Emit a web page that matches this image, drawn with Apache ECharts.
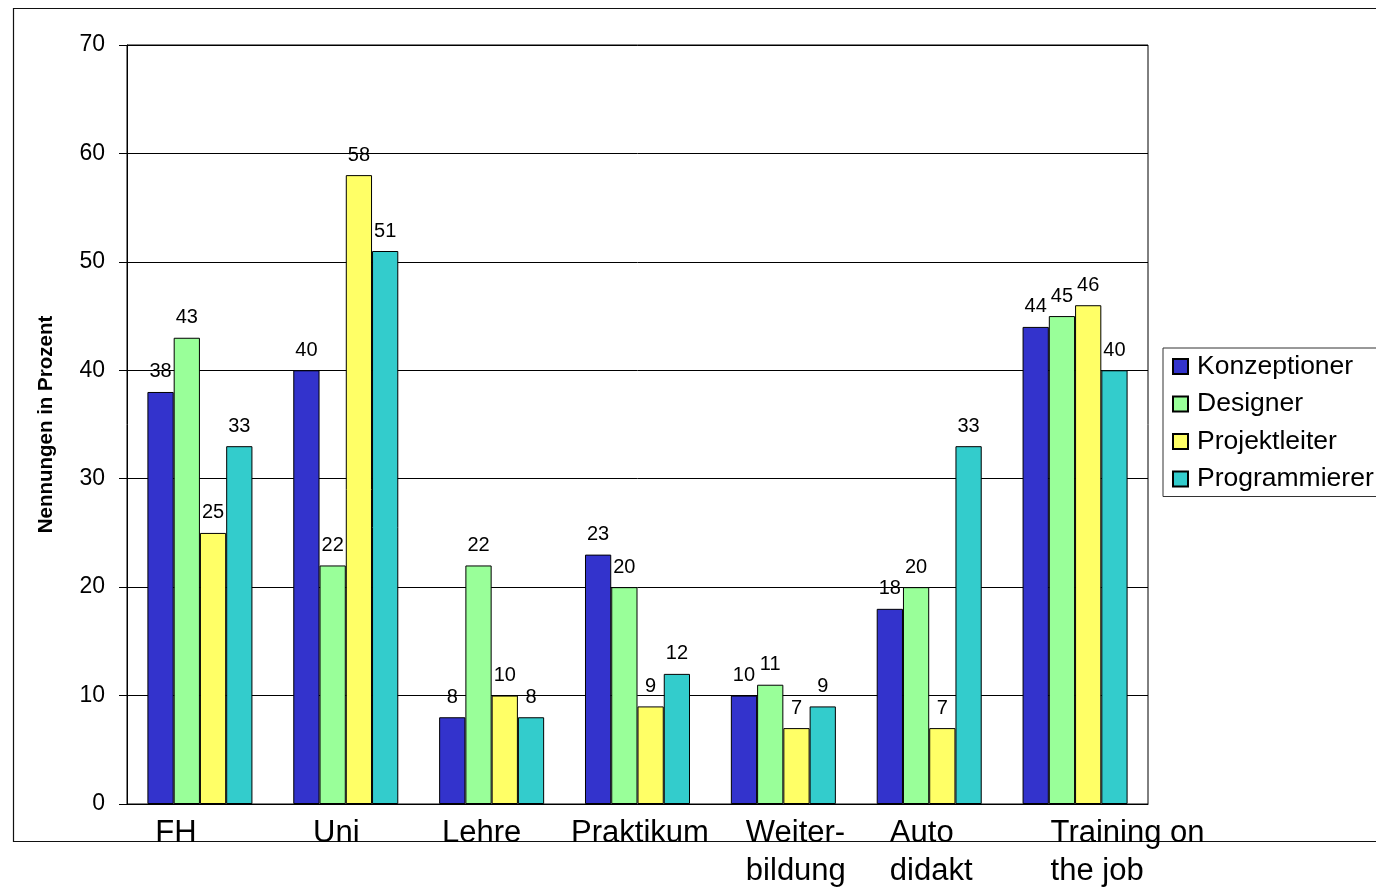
<!DOCTYPE html>
<html>
<head>
<meta charset="utf-8">
<title>Nennungen in Prozent</title>
<script src="https://cdn.jsdelivr.net/npm/echarts@6/dist/echarts.min.js"></script>
<style>
  html, body { margin: 0; padding: 0; background: #fff; }
  #chart { width: 1376px; height: 887px; }
</style>
</head>
<body>
<div id="chart"></div>
<script>
// Ausbildungswege nach Berufsgruppe (Nennungen in Prozent)
const categories = ['FH', 'Uni', 'Lehre', 'Praktikum', 'Weiter-\nbildung', 'Auto\ndidakt', 'Training on\nthe job'];
const seriesNames = ['Konzeptioner', 'Designer', 'Projektleiter', 'Programmierer'];
const konzeptioner = [38, 40, 8, 23, 10, 18, 44];
const designer = [43, 22, 22, 20, 11, 20, 45];
const projektleiter = [25, 58, 10, 9, 7, 7, 46];
const programmierer = [33, 51, 8, 12, 9, 33, 40];
const yTicks = [0, 10, 20, 30, 40, 50, 60, 70];

const colors = ['#3333CC', '#99FF99', '#FFFF66', '#33CCCC'];
const FONT = '"Liberation Sans", Arial, Helvetica, sans-serif';

// horizontal offsets [left, right] for each category label (lines are left-aligned)
const labelPad = [[0, 48], [0, 19], [0, 20], [5, 0], [25, 0], [4, 0], [105, 0]];
const rich = {};
labelPad.forEach((p, i) => {
  rich['c' + i] = {
    fontFamily: FONT, fontSize: 31, lineHeight: 38, color: '#000',
    align: 'left', padding: [0, p[1], 0, p[0]]
  };
});

const chart = echarts.init(document.getElementById('chart'), null, { renderer: 'canvas' });
const valueSets = [konzeptioner, designer, projektleiter, programmierer];

chart.setOption({
  backgroundColor: '#fff',
  animation: false,
  textStyle: { fontFamily: FONT, color: '#000' },
  graphic: [{
    type: 'rect',
    shape: { x: 13.5, y: 8.5, width: 1380, height: 833 },
    style: { fill: 'none', stroke: '#111', lineWidth: 1.2 },
    silent: true, z: -1
  }],
  grid: {
    left: 127, right: 228, top: 45, bottom: 83,
    show: true, borderColor: '#000', borderWidth: 1, backgroundColor: '#fff'
  },
  legend: {
    orient: 'vertical', left: 1163, top: 348,
    padding: [5, 3, 4, 9],
    borderColor: '#333', borderWidth: 1, backgroundColor: '#fff',
    itemWidth: 15, itemHeight: 15, itemGap: 10.5,
    icon: 'rect',
    textStyle: { fontFamily: FONT, fontSize: 26.5, color: '#000', padding: [0, 0, 0, 4] },
    data: seriesNames
  },
  xAxis: {
    type: 'category',
    data: categories,
    axisLine: { show: true, lineStyle: { color: '#000', width: 1 } },
    axisTick: { show: false },
    axisLabel: {
      interval: 0, margin: 10, color: '#000',
      formatter: (value, index) => value.split('\n').map(l => '{c' + index + '|' + l + '}').join('\n'),
      rich: rich
    }
  },
  yAxis: {
    type: 'value',
    min: yTicks[0], max: yTicks[yTicks.length - 1], interval: 10,
    name: 'Nennungen in Prozent',
    nameLocation: 'middle', nameGap: 70, nameRotate: 90,
    nameTextStyle: { fontFamily: FONT, fontSize: 20.5, fontWeight: 'bold', color: '#000' },
    axisLine: { show: true, lineStyle: { color: '#000', width: 1 } },
    axisTick: { show: true, inside: false, length: 8, lineStyle: { color: '#000' } },
    axisLabel: { margin: 22, fontFamily: FONT, fontSize: 23, color: '#000' },
    splitLine: { show: true, lineStyle: { color: '#000', width: 1 } }
  },
  series: seriesNames.map((name, i) => ({
    name: name,
    type: 'bar',
    data: valueSets[i],
    barGap: '0%',
    barCategoryGap: '28%',
    itemStyle: { color: colors[i], borderColor: '#000', borderWidth: 1 },
    label: {
      show: true, position: 'top', distance: 10,
      fontFamily: FONT, fontSize: 20, color: '#000'
    }
  }))
});
</script>
</body>
</html>
